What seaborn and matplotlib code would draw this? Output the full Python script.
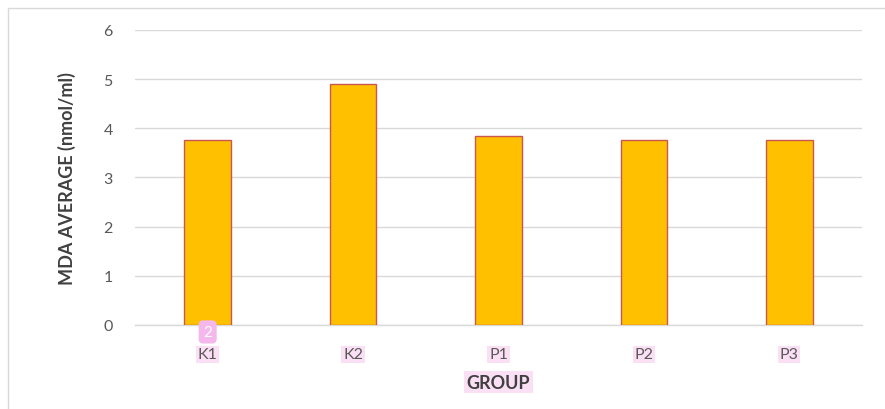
import matplotlib
matplotlib.use("Agg")
import matplotlib.pyplot as plt
import matplotlib.patches as mpatches
import pandas as pd
import seaborn as sns

# data
groups = ["K1", "K2", "P1", "P2", "P3"]
mda_avg = [3.77, 4.90, 3.85, 3.76, 3.76]
y_ticks = [0, 1, 2, 3, 4, 5, 6]

df = pd.DataFrame({"group": groups, "mda": mda_avg})

sns.set_theme(style="white")
plt.rcParams["font.family"] = ["Lato", "DejaVu Sans"]

fig = plt.figure(figsize=(8.85, 4.10), dpi=100)
ax = fig.add_axes([0.1525, 0.2049, 0.8215, 0.7195])

sns.barplot(data=df, x="group", y="mda", color="#FFC000", saturation=1,
            width=0.32, edgecolor="#C9574F", linewidth=1.0, ax=ax, zorder=3)

ax.set_ylim(0, 6)
ax.set_yticks(y_ticks)
ax.set_xlim(-0.5, 4.5)
ax.yaxis.grid(True, color="#D9D9D9", linewidth=1.0, zorder=0)
ax.set_axisbelow(True)
for s in ["top", "right", "left"]:
    ax.spines[s].set_visible(False)
ax.spines["bottom"].set_color("#D9D9D9")
ax.spines["bottom"].set_linewidth(1.0)
ax.tick_params(axis="y", length=0, pad=16, labelsize=11.5, labelcolor="#595959")
ax.tick_params(axis="x", length=0, pad=16, labelsize=11.5, labelcolor="#595959")
for lbl in ax.get_xticklabels():
    lbl.set_bbox(dict(boxstyle="square,pad=0.1", facecolor="#FBE0F5", edgecolor="none"))

ax.set_ylabel("MDA AVERAGE (nmol/ml)", fontsize=13, fontweight="bold",
              color="#404040", labelpad=20)
ax.set_xlabel("GROUP", fontsize=13, fontweight="bold", color="#404040", labelpad=9,
              bbox=dict(boxstyle="square,pad=0.15", facecolor="#FBE0F5", edgecolor="none"))

# little pink badge under the first bar
ax.annotate("2", xy=(0, 0), xytext=(0, -5), textcoords="offset points",
            ha="center", va="center", fontsize=11, color="white", zorder=5,
            bbox=dict(boxstyle="round,pad=0.3", facecolor="#F4B8EC", edgecolor="none"),
            annotation_clip=False)

# outer chart border
fig.patches.append(mpatches.Rectangle((8 / 885, -0.01), 1.0, 1 - 9 / 410 + 0.01,
                                      transform=fig.transFigure, fill=False,
                                      edgecolor="#D9D9D9", linewidth=1.0))

fig.savefig("out.png", dpi=100)
